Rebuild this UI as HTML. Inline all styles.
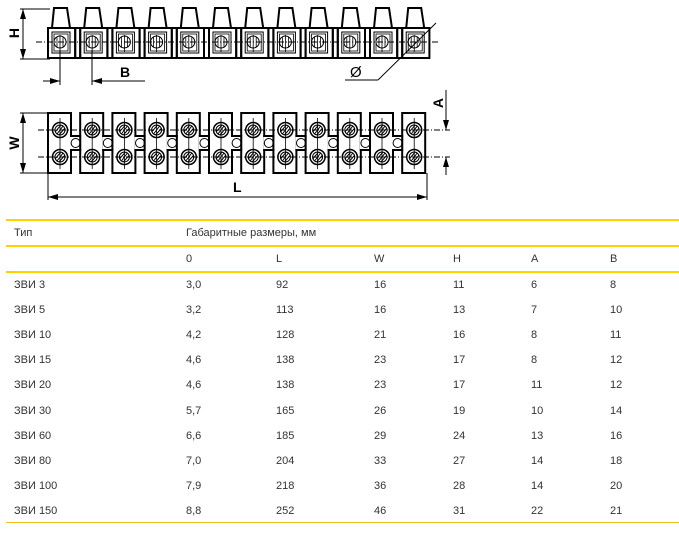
<!DOCTYPE html>
<html><head><meta charset="utf-8"><style>
body{margin:0;background:#fff;width:679px;height:538px;overflow:hidden;position:relative;font-family:"Liberation Sans",Arial,sans-serif;}
.t{position:absolute;font-size:11px;color:#333;white-space:nowrap;}
.ln{position:absolute;left:6px;width:673px;height:2px;background:#ffd200;}
</style></head><body>
<div id="draw" style="position:absolute;left:0;top:0;width:679px;height:210px"></div>
<div class="ln" style="top:219px"></div>
<div class="ln" style="top:245px"></div>
<div class="ln" style="top:271px"></div>
<div class="ln" style="top:522px;height:1px;background:#f0c020"></div>
<div class="t" style="left:14px;top:227px">Тип</div>
<div class="t" style="left:186px;top:227px">Габаритные размеры, мм</div>
<div id="rows"></div>
<script>
var s='';var P=32.2;
for(var i=0;i<12;i++){var x=48+i*P;
s+='<path d="M'+(x+4)+',28 L'+(x+6)+',8 L'+(x+19)+',8 L'+(x+22)+',28" stroke-width="2"/>';
s+='<rect x="'+x+'" y="28" width="'+(P-5)+'" height="30" stroke-width="2"/>';
s+='<rect x="'+(x+4)+'" y="32" width="18" height="21" stroke-width="1"/>';
s+='<rect x="'+(x+6)+'" y="34" width="14" height="17" stroke-width="0.8"/>';
s+='<circle cx="'+(x+12)+'" cy="42" r="6" stroke-width="1"/>';
s+='<line x1="'+(x+12)+'" y1="35" x2="'+(x+12)+'" y2="52" stroke-width="0.8"/><line x1="'+(x+9)+'" y1="37" x2="'+(x+9)+'" y2="47" stroke-width="0.8"/><line x1="'+(x+15)+'" y1="37" x2="'+(x+15)+'" y2="47" stroke-width="0.8"/>';
if(i<11)s+='<rect x="'+(x+P-5)+'" y="28" width="5" height="30" stroke-width="2"/>';
s+='<rect x="'+x+'" y="113" width="23" height="60" stroke-width="2"/>';
if(i<11){s+='<rect x="'+(x+23)+'" y="136" width="'+(P-23)+'" height="14" stroke-width="2"/><rect x="'+(x+22)+'" y="137" width="'+(P-21)+'" height="12" fill="#fff" stroke="none"/><circle cx="'+(x+27.6)+'" cy="143" r="4.5" stroke-width="1"/>';}
[130,157].forEach(function(cy){s+='<circle cx="'+(x+12)+'" cy="'+cy+'" r="7.5" stroke-width="1.5"/><circle cx="'+(x+12)+'" cy="'+cy+'" r="5" stroke-width="1"/><line x1="'+(x+9)+'" y1="'+(cy+4)+'" x2="'+(x+15)+'" y2="'+(cy-4)+'" stroke-width="1"/><line x1="'+(x+7)+'" y1="'+(cy+2)+'" x2="'+(x+13)+'" y2="'+(cy-5)+'" stroke-width="1"/><line x1="'+(x+11)+'" y1="'+(cy+5)+'" x2="'+(x+17)+'" y2="'+(cy-2)+'" stroke-width="1"/>';});
s+='<line x1="'+(x+12)+'" y1="118" x2="'+(x+12)+'" y2="169" stroke-width="0.8"/>';
}
var svg='<svg width="679" height="210" xmlns="http://www.w3.org/2000/svg">'+
'<defs><marker id="a" markerWidth="10" markerHeight="6" refX="10" refY="3" orient="auto" markerUnits="userSpaceOnUse"><path d="M0,0 L10,3 L0,6z" fill="#000"/></marker></defs>'+
'<g stroke="#000" fill="none">'+s+'</g>'+
'<g stroke="#000" stroke-width="1" fill="none">'+
'<line x1="36" y1="42" x2="440" y2="42" stroke-dasharray="6,2,1,2"/>'+
'<line x1="38" y1="130" x2="450" y2="130" stroke-dasharray="6,2,1,2"/>'+
'<line x1="38" y1="157" x2="450" y2="157" stroke-dasharray="6,2,1,2"/>'+
'<line x1="20" y1="9" x2="50" y2="9"/><line x1="20" y1="59" x2="50" y2="59"/>'+
'<line x1="23" y1="20" x2="23" y2="9" marker-end="url(#a)"/><line x1="23" y1="48" x2="23" y2="59" marker-end="url(#a)"/><line x1="23" y1="9" x2="23" y2="59"/>'+
'<line x1="60" y1="50" x2="60" y2="85"/><line x1="92" y1="50" x2="92" y2="85"/>'+
'<line x1="43" y1="81" x2="60" y2="81" marker-end="url(#a)"/><line x1="145" y1="81" x2="92" y2="81" marker-end="url(#a)"/>'+
'<line x1="436" y1="23" x2="378" y2="80"/><line x1="378" y1="80" x2="345" y2="80"/>'+
'<line x1="20" y1="113" x2="50" y2="113"/><line x1="20" y1="173" x2="50" y2="173"/>'+
'<line x1="23" y1="143" x2="23" y2="113" marker-end="url(#a)"/><line x1="23" y1="143" x2="23" y2="173" marker-end="url(#a)"/>'+
'<line x1="48" y1="173" x2="48" y2="200"/><line x1="427" y1="173" x2="427" y2="200"/>'+
'<line x1="238" y1="197" x2="48" y2="197" marker-end="url(#a)"/><line x1="238" y1="197" x2="427" y2="197" marker-end="url(#a)"/>'+
'<line x1="446" y1="90" x2="446" y2="130" marker-end="url(#a)"/><line x1="446" y1="175" x2="446" y2="157" marker-end="url(#a)"/>'+
'</g>'+
'<g font-family="Liberation Sans,Arial,sans-serif" font-weight="bold" font-size="14" fill="#000">'+
'<text x="14" y="38" transform="rotate(-90 14 33)" text-anchor="middle">H</text>'+
'<text x="14" y="148" transform="rotate(-90 14 143)" text-anchor="middle">W</text>'+
'<text x="438" y="108" transform="rotate(-90 438 103)" text-anchor="middle">A</text>'+
'<text x="120" y="77">B</text>'+
'<text x="233" y="192">L</text>'+
'<text x="350" y="77" font-weight="normal" font-size="15">Ø</text>'+
'</g></svg>';
document.getElementById('draw').innerHTML=svg;
var cols=[14,186,276,374,453,531,610];
var data=[["","0","L","W","H","A","B"],
["ЗВИ 3","3,0","92","16","11","6","8"],
["ЗВИ 5","3,2","113","16","13","7","10"],
["ЗВИ 10","4,2","128","21","16","8","11"],
["ЗВИ 15","4,6","138","23","17","8","12"],
["ЗВИ 20","4,6","138","23","17","11","12"],
["ЗВИ 30","5,7","165","26","19","10","14"],
["ЗВИ 60","6,6","185","29","24","13","16"],
["ЗВИ 80","7,0","204","33","27","14","18"],
["ЗВИ 100","7,9","218","36","28","14","20"],
["ЗВИ 150","8,8","252","46","31","22","21"]];
var h='';
data.forEach(function(r,i){var y=i==0?253:279+(i-1)*25.1;r.forEach(function(c,j){h+='<div class="t" style="left:'+cols[j]+'px;top:'+y+'px">'+c+'</div>';});});
document.getElementById('rows').innerHTML=h;
</script>
</body></html>
